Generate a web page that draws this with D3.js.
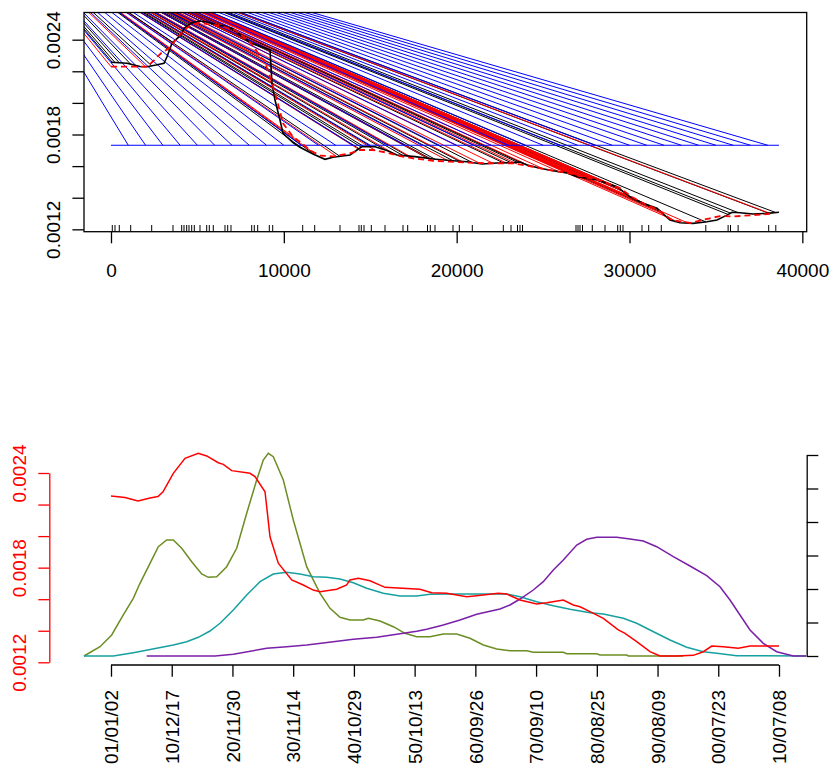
<!doctype html>
<html lang="en">
  <head>
    <meta charset="utf-8">
    <title>Event lines and smoothed hazard</title>
    <style>
      body {
        margin: 0;
        background: #fff;
      }

      svg text {
        font-family: "Liberation Sans", Arial, sans-serif;
      }
    </style>
  </head>
  <body>
    <svg id="chart" width="834" height="770"></svg>

    <script src="https://cdn.jsdelivr.net/npm/d3@7"></script>
    <script>
      // ---- top panel data ----
      // point every line converges to (outside the plot, gets clipped)
      const apexX = -6950
      const apexY = 0.003164

      const baseLevel = 0.001732
      const baseSpan = [0, 38650]
      const blueEnds = [1000, 2000, 3000, 4000, 5000, 6000, 7000, 8000, 9000, 10000,
        11000, 12000, 13000, 14000, 15000, 16000, 17000, 18000, 19000, 20000,
        21000, 22000, 23000, 24000, 25000, 26000, 27000, 28000, 29000, 30000,
        31000, 32000, 33000, 34000, 35000, 36000, 37000, 38000]

      const blackX = [0, 926, 1678, 2083, 2604, 3067, 3240, 3529, 4050, 4224,
        4629, 5092, 5555, 6191, 6538, 7001, 8043, 9084, 9200, 9316,
        9489, 9778, 9952, 10531, 10936, 11688, 12382, 12845, 13829, 14234,
        14523, 15275, 15969, 16548, 17589, 18631, 19788, 20598, 21466, 22334,
        23260, 23665, 24070, 24822, 25574, 26384, 26963, 28120, 29277, 30029,
        30782, 31592, 32344, 32923, 33675, 34485, 35064, 35642, 35932, 36395,
        37147, 37957, 38650]
      const blackY = [0.002257, 0.002251, 0.00223, 0.002229, 0.00224, 0.002251, 0.002292, 0.002377, 0.00243, 0.002472,
        0.002504, 0.002518, 0.002512, 0.00249, 0.002487, 0.002471, 0.002381, 0.002339, 0.002335, 0.002124,
        0.002018, 0.001892, 0.001808, 0.001748, 0.001719, 0.001677, 0.001643, 0.001656, 0.00167, 0.001702,
        0.001723, 0.001723, 0.001699, 0.00167, 0.00166, 0.001645, 0.001634, 0.001628, 0.001613, 0.00162,
        0.001622, 0.001626, 0.001607, 0.001586, 0.001571, 0.001556, 0.001533, 0.001512, 0.00147, 0.001406,
        0.001365, 0.001333, 0.001259, 0.001242, 0.001238, 0.001248, 0.001259, 0.00129, 0.001308, 0.001305,
        0.001297, 0.001301, 0.001308]

      const dashX = [0, 2025, 2314, 2893, 3356, 3819, 4224, 4629, 5092, 5555,
        6307, 7175, 8101, 8390, 8622, 8853, 9200, 9605, 9952, 10531,
        11051, 11514, 12093, 12845, 13829, 14407, 15159, 15969, 16722, 17474,
        18631, 19615, 20598, 21755, 23260, 24417, 25574, 26384, 27136, 28294,
        29451, 30145, 30897, 31649, 32459, 33500, 34657, 35236, 35988, 37147,
        38130]
      const dashY = [0.002229, 0.002229, 0.002251, 0.002314, 0.002346, 0.002409, 0.002461, 0.002493, 0.002508, 0.002499,
        0.002487, 0.002461, 0.002377, 0.002335, 0.002291, 0.002272, 0.002166, 0.002018, 0.001871, 0.001786,
        0.001744, 0.001699, 0.001667, 0.001662, 0.001681, 0.001702, 0.001702, 0.001685, 0.001664, 0.001649,
        0.001634, 0.001628, 0.001622, 0.001618, 0.001618, 0.001596, 0.001571, 0.001558, 0.001537, 0.001509,
        0.001461, 0.001404, 0.00136, 0.001322, 0.001259, 0.00124, 0.00127, 0.001284, 0.001281, 0.00129,
        0.001298]

      // event times: rug marks, black lines end on the solid curve there
      const events = [75, 231, 480, 1140, 2355, 3587, 4091, 4224, 4380, 4513,
        4669, 4820, 5149, 5537, 5688, 5919, 6596, 6752, 6943, 8141,
        8291, 8488, 9160, 9357, 11092, 11786, 13250, 14349, 14482, 14639,
        15061, 15854, 16895, 17167, 18313, 18475, 18747, 19788, 20153, 20905,
        22699, 23144, 23520, 23665, 23810, 26905, 27021, 27137, 27281, 27848,
        28583, 29318, 29468, 29624, 30723, 31111, 31840, 34415, 35706, 35845,
        36285, 38054, 38465]
      // red lines end on the dashed curve
      const redEnds = [0, 2000, 4300, 5100, 6300, 8000, 8600, 9300, 10600, 11600,
        13000, 14400, 15300, 16500, 17500, 18600, 19600, 20400, 21300, 22100,
        22900, 23500, 24300, 25000, 25900, 26500, 26900, 27200, 27500, 27900,
        28300, 28700, 29100, 29400, 29800, 30200, 30600, 31000, 31500, 32000,
        32600, 33300, 38200]

      const topXTicks = [0, 10000, 20000, 30000, 40000]
      const yTicks = [0.0012, 0.0014, 0.0016, 0.0018, 0.002, 0.0022, 0.0024]
      const yLabelled = [0.0012, 0.0018, 0.0024]

      // ---- bottom panel data ----
      const riskX = [0, 810, 1562, 2257, 2719, 3009, 3605, 4282, 5051, 5537,
        6209, 6498, 6984, 8043, 8332, 8911, 9009, 9200, 9680, 10455,
        11126, 11705, 12093, 13059, 13637, 13828, 14309, 14986, 15854, 17879,
        18556, 19424, 20581, 21159, 22409, 22895, 23665, 24631, 25210, 26171,
        26749, 27137, 27715, 28485, 29353, 29740, 30417, 31187, 31766, 32732,
        33693, 34271, 34757, 35428, 36296, 36973, 38650]
      const riskY = [0.002254, 0.002245, 0.002222, 0.002242, 0.002251, 0.002281, 0.002398, 0.002493, 0.002525, 0.002508,
        0.002465, 0.002455, 0.002415, 0.002398, 0.002377, 0.002281, 0.002186, 0.001996, 0.001828, 0.001722,
        0.00169, 0.001658, 0.001648, 0.001663, 0.00169, 0.001722, 0.001733, 0.001717, 0.001675, 0.001663,
        0.001641, 0.001637, 0.001616, 0.001622, 0.001637, 0.001633, 0.001595, 0.00157, 0.001578, 0.001595,
        0.001563, 0.001552, 0.001521, 0.001479, 0.001405, 0.001384, 0.001331, 0.001268, 0.00124, 0.00124,
        0.001244, 0.001267, 0.001303, 0.001299, 0.001289, 0.001303, 0.001303]

      const oliveX = [-1562, -636, 41, 712, 1290, 1678, 2257, 2737, 3223, 3605,
        4091, 4669, 5248, 5630, 6116, 6694, 7273, 7852, 8430, 8812,
        9101, 9391, 9969, 10548, 11323, 12093, 12672, 13250, 13829, 14598,
        14887, 15564, 16334, 17011, 17688, 18457, 19227, 20002, 20772, 21542,
        22317, 23087, 24053, 24435, 26171, 26367, 28103, 28295, 29839, 29931,
        33113]
      const oliveY = [0, 0.278, 0.627, 1.224, 1.722, 2.17, 2.767, 3.263, 3.463, 3.463,
        3.215, 2.815, 2.448, 2.349, 2.367, 2.666, 3.215, 4.26, 5.254, 5.851,
        6.051, 5.949, 5.254, 4.06, 2.666, 1.872, 1.424, 1.155, 1.075, 1.075,
        1.125, 1.045, 0.875, 0.678, 0.576, 0.576, 0.657, 0.657, 0.528, 0.328,
        0.209, 0.158, 0.158, 0.11, 0.11, 0.069, 0.069, 0.03, 0.03, 0,
        0]

      const tealX = [-1562, 133, 1290, 2644, 3605, 4380, 5051, 5728, 6307, 7076,
        7852, 8621, 9391, 10166, 10936, 11705, 12480, 13250, 14020, 14795,
        15755, 16722, 17688, 18457, 19615, 22895, 23665, 24631, 25592, 26558,
        27715, 28485, 29642, 30417, 31187, 32344, 33310, 34271, 35046, 36203,
        40213]
      const tealY = [0, 0, 0.099, 0.23, 0.328, 0.427, 0.558, 0.746, 0.976, 1.373,
        1.821, 2.218, 2.448, 2.499, 2.448, 2.367, 2.349, 2.299, 2.188, 2.021,
        1.872, 1.791, 1.791, 1.842, 1.851, 1.851, 1.77, 1.621, 1.501, 1.394,
        1.293, 1.254, 1.125, 0.976, 0.776, 0.478, 0.26, 0.128, 0.081, 0.009,
        0]

      const purpleX = [2066, 6017, 7076, 9009, 10166, 11323, 12862, 14020, 15374, 17688,
        18267, 19227, 20193, 21159, 22507, 23087, 23665, 24435, 25013, 25592,
        26171, 26946, 27524, 28103, 29260, 30029, 30799, 31574, 32535, 33501,
        34467, 35236, 35815, 36393, 36973, 37742, 38517, 39477, 40213]
      const purpleY = [0, 0, 0.051, 0.23, 0.278, 0.328, 0.427, 0.499, 0.558, 0.737,
        0.797, 0.925, 1.075, 1.245, 1.403, 1.522, 1.701, 1.97, 2.218, 2.567,
        2.866, 3.313, 3.484, 3.543, 3.543, 3.493, 3.433, 3.263, 2.964, 2.687,
        2.397, 2.069, 1.672, 1.224, 0.776, 0.379, 0.128, 0, 0]

      const dateTicks = [0, 3514, 7027, 10541, 14055, 17568, 21082, 24595, 28109, 31623, 35136, 38650]
      const dateLabels = ['01/01/02', '10/12/17', '20/11/30', '30/11/14', '40/10/29', '50/10/13',
        '60/09/26', '70/09/10', '80/08/25', '90/08/09', '00/07/23', '10/07/08']
      const rightTicks = [0, 1, 2, 3, 4, 5, 6]

      const fontSize = 19
      const svg = d3.select('#chart')

      const x = d3.scaleLinear().domain([-1562, 40253]).range([84, 806.7])

      function onCurve(xs, ys, at) {
        const i = d3.bisectRight(xs, at)
        if (i <= 0) return ys[0]
        if (i >= xs.length) return ys[ys.length - 1]
        const t = (at - xs[i - 1]) / (xs[i] - xs[i - 1])
        return ys[i - 1] + t * (ys[i] - ys[i - 1])
      }

      function styleAxis(g, color) {
        g.attr('font-size', fontSize)
          .attr('font-family', '"Liberation Sans", Arial, sans-serif')
          .attr('color', color)
      }

      function rotateLeftLabels(g, offset) {
        g.selectAll('.tick text')
          .attr('transform', 'rotate(-90)')
          .attr('x', 0)
          .attr('y', -offset)
          .attr('dy', '0.35em')
          .attr('text-anchor', 'middle')
      }

      // ================= top panel =================
      function topPanel() {
        const y = d3.scaleLinear().domain([0.001185, 0.002572]).range([231.7, 12.5])

        svg.append('clipPath').attr('id', 'topClip')
          .append('rect')
            .attr('x', 84).attr('y', 12.5)
            .attr('width', 722.7).attr('height', 219.2)

        const plot = svg.append('g').attr('clip-path', 'url(#topClip)')
        const ray = (ex, ey) => `M${x(apexX)},${y(apexY)}L${x(ex)},${y(ey)}`

        plot.selectAll('path.black-ray').data(events)
          .enter().append('path')
            .attr('class', 'black-ray')
            .attr('d', d => ray(d, onCurve(blackX, blackY, d)))
            .attr('fill', 'none').attr('stroke', 'black').attr('stroke-width', 1)

        plot.selectAll('path.red-ray').data(redEnds)
          .enter().append('path')
            .attr('class', 'red-ray')
            .attr('d', d => ray(d, onCurve(dashX, dashY, d)))
            .attr('fill', 'none').attr('stroke', 'red').attr('stroke-width', 1)

        plot.selectAll('path.blue-ray').data(blueEnds)
          .enter().append('path')
            .attr('class', 'blue-ray')
            .attr('d', d => ray(d, baseLevel))
            .attr('fill', 'none').attr('stroke', 'blue').attr('stroke-width', 1)

        plot.append('line')
          .attr('x1', x(baseSpan[0])).attr('x2', x(baseSpan[1]))
          .attr('y1', y(baseLevel)).attr('y2', y(baseLevel))
          .attr('stroke', 'blue').attr('stroke-width', 1)

        const curve = d3.line().x(d => x(d[0])).y(d => y(d[1]))
        plot.append('path')
          .attr('d', curve(d3.zip(blackX, blackY)))
          .attr('fill', 'none').attr('stroke', 'black').attr('stroke-width', 1.6)
        plot.append('path')
          .attr('d', curve(d3.zip(dashX, dashY)))
          .attr('fill', 'none').attr('stroke', 'red').attr('stroke-width', 1.8)
          .attr('stroke-dasharray', '6,4')

        // rug
        plot.selectAll('line.rug').data(events)
          .enter().append('line')
            .attr('class', 'rug')
            .attr('x1', d => x(d)).attr('x2', d => x(d))
            .attr('y1', 231.7).attr('y2', 225)
            .attr('stroke', 'black').attr('stroke-width', 1)

        svg.append('rect')
          .attr('x', 84).attr('y', 12.5)
          .attr('width', 722.7).attr('height', 219.2)
          .attr('fill', 'none').attr('stroke', 'black').attr('stroke-width', 1.3)

        svg.append('g')
          .attr('transform', 'translate(0, 231.7)')
          .call(d3.axisBottom(x).tickValues(topXTicks).tickSize(11.6).tickSizeOuter(0).tickFormat(d3.format('d')))
          .call(g => styleAxis(g, 'black'))
          .call(g => g.select('.domain').remove())
          .call(g => g.selectAll('.tick line').attr('stroke-width', 1.3))
          .call(g => g.selectAll('.tick text').attr('y', 38.3).attr('dy', '0.35em'))

        svg.append('g')
          .attr('transform', 'translate(84, 0)')
          .call(d3.axisLeft(y).tickValues(yTicks).tickSize(11.6).tickSizeOuter(0)
            .tickFormat(d => yLabelled.includes(d) ? d3.format('.4f')(d) : ''))
          .call(g => styleAxis(g, 'black'))
          .call(g => g.select('.domain').remove())
          .call(g => g.selectAll('.tick line').attr('stroke-width', 1.3))
          .call(g => rotateLeftLabels(g, 31))
      }

      // ================= bottom panel =================
      function bottomPanel() {
        const yLeft = d3.scaleLinear().domain([0.0012, 0.0024]).range([662.3, 473])
        const yRight = d3.scaleLinear().domain([0, 6]).range([656, 455])

        const leftLine = d3.line().x(d => x(d[0])).y(d => yLeft(d[1]))
        const rightLine = d3.line().x(d => x(d[0])).y(d => yRight(d[1]))

        const series = [
          { xs: oliveX, ys: oliveY, color: '#6b8e23' },
          { xs: tealX, ys: tealY, color: '#17a0a0' },
          { xs: purpleX, ys: purpleY, color: '#7a1fa8' },
        ]
        svg.selectAll('path.density').data(series)
          .enter().append('path')
            .attr('class', 'density')
            .attr('d', s => rightLine(d3.zip(s.xs, s.ys)))
            .attr('fill', 'none')
            .attr('stroke', s => s.color)
            .attr('stroke-width', 1.5)

        svg.append('path')
          .attr('d', leftLine(d3.zip(riskX, riskY)))
          .attr('fill', 'none').attr('stroke', 'red').attr('stroke-width', 1.5)

        svg.append('g')
          .attr('transform', 'translate(0, 665)')
          .call(d3.axisBottom(x).tickValues(dateTicks).tickSize(11.7).tickSizeOuter(0)
            .tickFormat((d, i) => dateLabels[i]))
          .call(g => styleAxis(g, 'black'))
          .call(g => g.select('.domain').remove())
          .call(g => g.selectAll('.tick line').attr('stroke-width', 1.3))
          .call(g => g.selectAll('.tick text')
            .attr('transform', 'rotate(-90)')
            .attr('x', -25)
            .attr('y', 0)
            .attr('dy', '0.35em')
            .attr('text-anchor', 'end'))
          .call(g => g.append('line')
            .attr('x1', x(dateTicks[0])).attr('x2', x(dateTicks[dateTicks.length - 1]))
            .attr('stroke', 'black').attr('stroke-width', 1.3))

        svg.append('g')
          .attr('transform', 'translate(49.3, 0)')
          .call(d3.axisLeft(yLeft).tickValues(yTicks).tickSize(11).tickSizeOuter(0)
            .tickFormat(d => yLabelled.includes(d) ? d3.format('.4f')(d) : ''))
          .call(g => styleAxis(g, 'red'))
          .call(g => g.selectAll('.domain, .tick line').attr('stroke-width', 1.3))
          .call(g => rotateLeftLabels(g, 30))

        svg.append('g')
          .attr('transform', 'translate(806.7, 0)')
          .call(d3.axisRight(yRight).tickValues(rightTicks).tickSize(11.6).tickSizeOuter(0).tickFormat(''))
          .call(g => styleAxis(g, 'black'))
          .call(g => g.selectAll('.domain, .tick line').attr('stroke-width', 1.3))
      }

      topPanel()
      bottomPanel()
    </script>
  </body>
</html>
